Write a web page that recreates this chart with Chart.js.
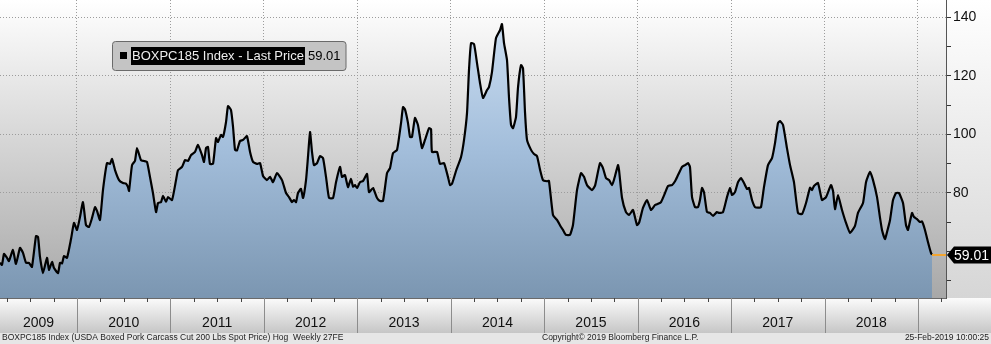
<!DOCTYPE html>
<html>
<head>
<meta charset="utf-8">
<script src="https://cdn.jsdelivr.net/npm/chart.js@4/dist/chart.umd.min.js"></script>
<style>
html, body { margin: 0; padding: 0; background: #fff; }
#wrap { width: 991px; height: 344px; position: relative; }
</style>
</head>
<body>
<div id="wrap"><canvas id="pork"></canvas></div>
<script>
// Weekly boxed pork carcass price (decimal years / USD)
const dates = [2009.176,2009.197,2009.219,2009.251,2009.272,2009.315,2009.347,2009.390,2009.422,2009.454,2009.486,2009.518,2009.561,2009.583,2009.604,2009.636,2009.679,2009.700,2009.733,2009.754,2009.797,2009.818,2009.840,2009.861,2009.893,2009.936,2009.968,2010.000,2010.032,2010.064,2010.096,2010.128,2010.161,2010.193,2010.214,2010.246,2010.278,2010.321,2010.353,2010.375,2010.407,2010.450,2010.492,2010.524,2010.546,2010.557,2010.589,2010.621,2010.642,2010.685,2010.717,2010.749,2010.781,2010.813,2010.846,2010.867,2010.899,2010.920,2010.953,2010.974,2011.017,2011.060,2011.081,2011.124,2011.156,2011.188,2011.220,2011.263,2011.295,2011.338,2011.359,2011.381,2011.402,2011.423,2011.456,2011.488,2011.509,2011.541,2011.563,2011.595,2011.616,2011.648,2011.670,2011.691,2011.712,2011.744,2011.777,2011.819,2011.852,2011.884,2011.926,2011.959,2011.991,2012.033,2012.066,2012.098,2012.140,2012.194,2012.237,2012.269,2012.301,2012.322,2012.344,2012.365,2012.397,2012.419,2012.451,2012.472,2012.494,2012.515,2012.536,2012.569,2012.601,2012.633,2012.665,2012.697,2012.740,2012.772,2012.815,2012.836,2012.868,2012.900,2012.932,2012.954,2012.975,2012.997,2013.029,2013.061,2013.104,2013.125,2013.168,2013.211,2013.243,2013.275,2013.318,2013.350,2013.382,2013.425,2013.468,2013.489,2013.510,2013.542,2013.564,2013.585,2013.617,2013.649,2013.692,2013.724,2013.767,2013.789,2013.799,2013.853,2013.885,2013.928,2013.970,2013.992,2014.013,2014.056,2014.110,2014.142,2014.174,2014.195,2014.217,2014.249,2014.281,2014.313,2014.345,2014.388,2014.409,2014.441,2014.484,2014.527,2014.548,2014.570,2014.602,2014.623,2014.645,2014.666,2014.698,2014.720,2014.752,2014.773,2014.795,2014.816,2014.859,2014.891,2014.923,2014.955,2014.987,2015.030,2015.051,2015.094,2015.137,2015.180,2015.201,2015.233,2015.276,2015.308,2015.351,2015.394,2015.426,2015.458,2015.512,2015.544,2015.597,2015.629,2015.661,2015.694,2015.726,2015.747,2015.790,2015.801,2015.833,2015.875,2015.908,2015.950,2015.993,2016.015,2016.057,2016.100,2016.143,2016.186,2016.218,2016.250,2016.293,2016.325,2016.368,2016.400,2016.432,2016.475,2016.507,2016.539,2016.560,2016.582,2016.614,2016.646,2016.667,2016.689,2016.710,2016.742,2016.774,2016.807,2016.849,2016.871,2016.914,2016.956,2016.988,2017.010,2017.042,2017.074,2017.106,2017.138,2017.170,2017.192,2017.224,2017.256,2017.288,2017.320,2017.352,2017.395,2017.438,2017.470,2017.502,2017.524,2017.556,2017.598,2017.631,2017.673,2017.716,2017.759,2017.802,2017.845,2017.866,2017.887,2017.930,2017.973,2018.016,2018.069,2018.091,2018.112,2018.144,2018.187,2018.230,2018.273,2018.326,2018.358,2018.412,2018.444,2018.487,2018.519,2018.562,2018.594,2018.615,2018.647,2018.669,2018.701,2018.733,2018.765,2018.797,2018.840,2018.872,2018.893,2018.936,2018.958,2018.990,2019.022,2019.043,2019.075,2019.107,2019.140,2019.150];
const prices = [56.2,55.5,59.2,57.9,56.8,60.6,55.8,61.3,59.6,56.2,56.2,54.8,65.3,65.0,58.2,52.7,57.9,53.8,56.5,54.4,52.7,56.2,56.0,58.5,57.9,64.3,69.8,67.4,71.8,76.9,69.1,68.4,71.5,75.2,73.9,70.8,81.0,90.2,89.9,91.6,87.8,84.4,83.4,83.2,82.0,80.7,89.5,91.0,95.3,91.2,90.9,90.6,85.5,80.0,73.5,76.6,76.9,79.0,77.0,78.6,77.6,84.4,87.8,88.9,91.2,90.9,92.9,94.0,96.4,92.9,90.6,95.3,95.7,89.9,90.0,98.7,97.4,99.8,99.1,104.2,109.6,108.3,102.5,94.7,94.5,97.7,98.1,99.4,94.0,90.6,89.9,90.2,85.8,84.4,85.5,83.7,86.8,84.4,80.0,78.6,76.9,77.6,76.9,80.0,81.4,78.3,84.4,92.3,100.8,94.0,89.5,90.2,92.6,91.9,85.5,78.3,78.3,83.7,88.9,85.5,86.1,82.0,84.8,82.2,82.7,81.7,83.7,84.1,86.5,80.3,81.7,78.3,77.3,77.3,86.8,88.5,93.6,94.7,103.9,109.3,108.5,103.9,99.1,99.1,105.6,103.2,95.3,98.1,102.1,101.8,94.0,94.0,89.9,90.2,85.5,82.7,83.1,87.5,92.3,98.1,107.3,121.9,131.1,130.8,124.3,117.5,112.4,115.1,116.1,121.2,132.8,135.5,137.6,131.1,125.3,112.7,103.2,102.1,105.9,116.1,123.6,122.6,107.3,98.1,94.7,93.3,92.6,88.0,84.4,84.0,84.1,72.5,70.8,68.4,67.4,65.7,65.7,69.1,81.0,86.8,85.5,82.7,81.0,82.5,90.2,88.5,85.1,84.4,82.7,84.5,89.5,87.8,78.3,73.5,72.5,74.2,69.1,69.8,74.9,77.6,74.2,75.9,76.3,76.9,80.0,82.4,82.7,84.0,86.1,88.9,89.5,90.2,88.9,78.6,75.2,75.2,77.6,81.7,80.3,73.5,73.2,72.2,73.5,73.2,73.5,78.6,81.7,79.3,80.3,83.7,85.1,83.4,81.4,81.7,77.6,75.2,75.0,75.2,82.0,89.5,91.9,97.0,103.9,104.5,103.2,95.3,89.5,83.7,73.2,72.8,76.6,81.8,81.0,82.4,83.4,77.6,78.6,82.7,80.7,74.5,79.3,74.2,69.8,66.4,68.8,73.2,76.6,83.7,87.2,84.4,78.6,71.5,67.4,64.3,66.7,70.8,77.6,80.0,80.0,76.6,69.1,67.4,73.2,71.8,71.1,70.1,70.3,67.4,63.3,59.5,59.01];

const yearLabels = [2009, 2010, 2011, 2012, 2013, 2014, 2015, 2016, 2017, 2018];
const yearBounds = [2010, 2011, 2012, 2013, 2014, 2015, 2016, 2017, 2018, 2019];
const yTicks = [50, 60, 70, 80, 90, 100, 110, 120, 130, 140];
const yLabelled = [80, 100, 120, 140];
const lastPrice = 59.01;
const seriesName = 'BOXPC185 Index - Last Price';
const footerLeft = 'BOXPC185 Index (USDA Boxed Pork Carcass Cut 200 Lbs Spot Price) Hog  Weekly 27FE';
const footerMid = 'Copyright\u00a9 2019 Bloomberg Finance L.P.';
const footerRight = '25-Feb-2019 10:00:25';

const FONT = '"Liberation Sans", Arial, sans-serif';
const points = dates.slice(0, Math.min(dates.length, prices.length)).map((d, i) => ({ x: d, y: prices[i] }));

// backgrounds, bottom band, legend, last price badge
const bloombergDecor = {
    id: 'bloombergDecor',
    beforeDraw(chart) {
        const { ctx, chartArea: a, width, height } = chart;
        ctx.save();
        let g = ctx.createLinearGradient(0, a.top, 0, a.bottom);
        g.addColorStop(0, '#ffffff');
        g.addColorStop(1, '#a8a8a8');
        ctx.fillStyle = g;
        ctx.fillRect(a.left, a.top, a.right - a.left, a.bottom - a.top);
        g = ctx.createLinearGradient(0, 0, 0, a.bottom);
        g.addColorStop(0, '#ffffff');
        g.addColorStop(1, '#d6d6d6');
        ctx.fillStyle = g;
        ctx.fillRect(a.right, 0, width - a.right, a.bottom);
        g = ctx.createLinearGradient(0, a.bottom, 0, a.bottom + 35);
        g.addColorStop(0, '#fbfbfb');
        g.addColorStop(1, '#c6c6c6');
        ctx.fillStyle = g;
        ctx.fillRect(0, a.bottom, width, 35);
        ctx.fillStyle = '#e6e6e6';
        ctx.fillRect(0, a.bottom + 35, width, height - a.bottom - 35);
        ctx.restore();
    },
    afterDraw(chart) {
        const { ctx, chartArea: a, width } = chart;
        const xs = chart.scales.x, ys = chart.scales.y;
        ctx.save();

        // year separators in the band
        ctx.strokeStyle = '#8c8c8c';
        ctx.lineWidth = 1;
        yearBounds.forEach(yr => {
            const px = Math.round(xs.getPixelForValue(yr)) + 0.5;
            ctx.beginPath();
            ctx.moveTo(px, a.bottom);
            ctx.lineTo(px, a.bottom + 35);
            ctx.stroke();
        });
        // quarter ticks
        ctx.strokeStyle = '#444';
        yearLabels.concat([2019]).forEach(yr => {
            [0.25, 0.5, 0.75].forEach(q => {
                const v = yr + q;
                if (v < xs.min || v > xs.max) return;
                const px = Math.round(xs.getPixelForValue(v)) + 0.5;
                ctx.beginPath();
                ctx.moveTo(px, a.bottom);
                ctx.lineTo(px, a.bottom + 4);
                ctx.stroke();
            });
        });
        // year labels centred on the visible part of each year
        ctx.fillStyle = '#111';
        ctx.font = '14px ' + FONT;
        ctx.textAlign = 'center';
        ctx.textBaseline = 'middle';
        yearLabels.forEach(yr => {
            const l = Math.max(xs.getPixelForValue(yr), a.left);
            const r = Math.min(xs.getPixelForValue(yr + 1), a.right);
            if (r - l > 40) ctx.fillText(String(yr), (l + r) / 2, a.bottom + 25);
        });

        // footer
        ctx.font = '8.5px ' + FONT;
        ctx.fillStyle = '#222';
        ctx.textAlign = 'left';
        ctx.fillText(footerLeft, 2, a.bottom + 40);
        ctx.fillText(footerMid, 542, a.bottom + 40);
        ctx.textAlign = 'right';
        ctx.fillText(footerRight, width - 2, a.bottom + 40);

        // legend box
        ctx.font = '13px ' + FONT;
        ctx.textAlign = 'left';
        const nameW = ctx.measureText(seriesName).width;
        const valTxt = lastPrice.toFixed(2);
        const valW = ctx.measureText(valTxt).width;
        const bx = 112, by = 41, bh = 29;
        const bw = (131 - bx) + nameW + 4 + valW + 6;
        ctx.beginPath();
        ctx.roundRect(bx + 0.5, by + 0.5, bw, bh, 3);
        ctx.fillStyle = '#c4c4c4';
        ctx.fill();
        ctx.strokeStyle = '#6a6a6a';
        ctx.stroke();
        ctx.fillStyle = '#000';
        ctx.fillRect(120, 52, 7, 7);
        ctx.fillRect(131, 47, nameW + 2, 18);
        ctx.fillStyle = '#ededed';
        ctx.fillText(seriesName, 132, 56.5);
        ctx.fillStyle = '#000';
        ctx.fillText(valTxt, 131 + nameW + 5, 56.5);

        // last price marker
        const lx = xs.getPixelForValue(dates[dates.length - 1]);
        const ly = Math.round(ys.getPixelForValue(lastPrice));
        ctx.strokeStyle = '#f2a531';
        ctx.lineWidth = 2;
        ctx.beginPath();
        ctx.moveTo(lx, ly);
        ctx.lineTo(a.right, ly);
        ctx.stroke();
        ctx.fillStyle = '#000';
        ctx.beginPath();
        ctx.moveTo(a.right + 1, ly);
        ctx.lineTo(a.right + 8, ly - 8.5);
        ctx.lineTo(width, ly - 8.5);
        ctx.lineTo(width, ly + 8.5);
        ctx.lineTo(a.right + 8, ly + 8.5);
        ctx.closePath();
        ctx.fill();
        ctx.fillStyle = '#fff';
        ctx.font = '14px ' + FONT;
        ctx.textAlign = 'left';
        ctx.fillText(valTxt, a.right + 8, ly + 1);
        ctx.restore();
    }
};

new Chart(document.getElementById('pork'), {
    type: 'line',
    data: {
        datasets: [{
            label: seriesName,
            data: points,
            borderColor: '#000',
            borderWidth: 2.2,
            borderJoinStyle: 'round',
            pointRadius: 0,
            tension: 0.15,
            fill: 'start',
            backgroundColor: ctx => {
                const a = ctx.chart.chartArea;
                if (!a) return '#a0bcd8';
                const g = ctx.chart.ctx.createLinearGradient(0, a.top, 0, a.bottom);
                g.addColorStop(0, '#d2e3f5');
                g.addColorStop(0.5, '#a3bedb');
                g.addColorStop(1, '#7b96b1');
                return g;
            }
        }]
    },
    options: {
        responsive: true,
        maintainAspectRatio: false,
        animation: false,
        layout: { padding: 0 },
        plugins: {
            legend: { display: false },
            tooltip: { enabled: false }
        },
        scales: {
            x: {
                type: 'linear',
                min: 2009.176,
                max: 2019.30,
                afterBuildTicks: s => { s.ticks = yearBounds.map(v => ({ value: v })); },
                afterFit: s => { s.height = 46; s.paddingLeft = 0; s.paddingRight = 0; },
                ticks: { display: false },
                grid: { color: '#9c9c9c', lineWidth: 1, drawTicks: false },
                border: { display: true, color: '#6a6a6a', width: 1, dash: [1, 2] }
            },
            y: {
                position: 'right',
                min: 44.2,
                max: 145.8,
                afterBuildTicks: s => { s.ticks = yTicks.map(v => ({ value: v })); },
                afterFit: s => { s.width = 45; s.paddingTop = 0; s.paddingBottom = 0; },
                ticks: {
                    autoSkip: false,
                    padding: 2,
                    color: '#111',
                    font: { family: FONT, size: 14 },
                    callback: v => yLabelled.includes(v) ? String(v) : ''
                },
                grid: {
                    color: c => (c.tick && yLabelled.includes(c.tick.value)) ? '#9c9c9c' : 'rgba(0,0,0,0)',
                    tickColor: '#333',
                    tickLength: 5,
                    lineWidth: 1
                },
                border: { display: true, color: '#555', width: 1, dash: [1, 2] }
            }
        }
    },
    plugins: [bloombergDecor]
});
</script>
</body>
</html>
